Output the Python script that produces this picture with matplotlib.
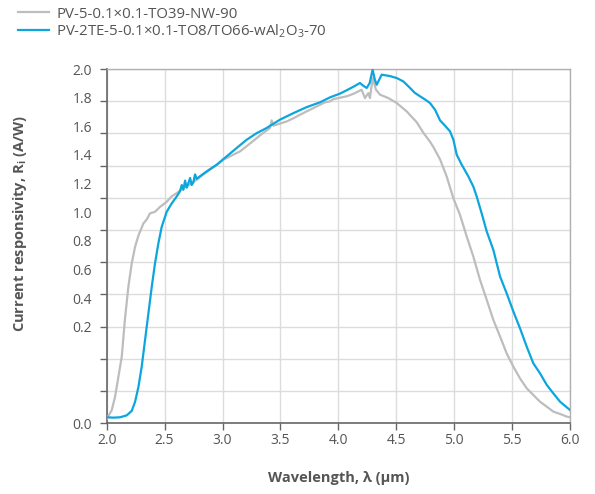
import numpy as np
import matplotlib
matplotlib.use("Agg")
import matplotlib.pyplot as plt

# spectral responsivity
gray_x = [2.000, 2.043, 2.072, 2.101, 2.130, 2.158, 2.187, 2.216, 2.245, 2.274,
          2.317, 2.345, 2.374, 2.417, 2.461, 2.518, 2.561, 2.604, 2.662, 2.720,
          2.777, 2.835, 2.892, 2.950, 3.007, 3.080, 3.151, 3.223, 3.295, 3.352,
          3.410, 3.424, 3.440, 3.468, 3.554, 3.612, 3.669, 3.740, 3.813, 3.885,
          3.928, 3.957, 4.072, 4.130, 4.201, 4.230, 4.259, 4.273, 4.296, 4.325,
          4.360, 4.432, 4.504, 4.590, 4.633, 4.676, 4.734, 4.791, 4.820, 4.878,
          4.935, 4.993, 5.050, 5.108, 5.165, 5.223, 5.281, 5.338, 5.396, 5.453,
          5.511, 5.568, 5.626, 5.683, 5.741, 5.799, 5.856, 5.914, 5.971, 6.000]
gray_y = [0.025, 0.073, 0.149, 0.262, 0.375, 0.590, 0.770, 0.902, 0.996, 1.060,
          1.128, 1.150, 1.185, 1.194, 1.222, 1.250, 1.281, 1.299, 1.328, 1.350,
          1.375, 1.405, 1.432, 1.458, 1.488, 1.512, 1.535, 1.572, 1.610, 1.640,
          1.667, 1.710, 1.680, 1.686, 1.704, 1.722, 1.742, 1.765, 1.789, 1.812,
          1.817, 1.830, 1.846, 1.860, 1.883, 1.836, 1.864, 1.836, 1.949, 1.883,
          1.855, 1.836, 1.808, 1.761, 1.730, 1.700, 1.640, 1.590, 1.560, 1.490,
          1.394, 1.270, 1.177, 1.055, 0.942, 0.810, 0.697, 0.584, 0.490, 0.395,
          0.320, 0.254, 0.198, 0.160, 0.122, 0.094, 0.066, 0.053, 0.038, 0.034]

blue_x = [2.000, 2.058, 2.115, 2.173, 2.216, 2.245, 2.274, 2.302, 2.331, 2.360,
          2.389, 2.417, 2.446, 2.475, 2.518, 2.561, 2.604, 2.633, 2.648, 2.662,
          2.677, 2.691, 2.705, 2.720, 2.734, 2.748, 2.763, 2.777, 2.806, 2.863,
          2.950, 3.036, 3.122, 3.209, 3.295, 3.381, 3.496, 3.612, 3.727, 3.842,
          3.928, 4.014, 4.072, 4.130, 4.187, 4.216, 4.245, 4.270, 4.296, 4.315,
          4.331, 4.374, 4.446, 4.504, 4.561, 4.619, 4.661, 4.705, 4.748, 4.791,
          4.835, 4.878, 4.921, 4.964, 4.993, 5.022, 5.065, 5.122, 5.165, 5.194,
          5.237, 5.281, 5.338, 5.396, 5.453, 5.511, 5.568, 5.626, 5.683, 5.741,
          5.799, 5.856, 5.914, 6.000]
blue_y = [0.034, 0.032, 0.034, 0.045, 0.070, 0.121, 0.205, 0.318, 0.469, 0.620,
          0.770, 0.902, 1.015, 1.109, 1.194, 1.241, 1.280, 1.310, 1.345, 1.318,
          1.370, 1.330, 1.355, 1.385, 1.345, 1.360, 1.405, 1.380, 1.395, 1.422,
          1.460, 1.507, 1.554, 1.601, 1.638, 1.667, 1.714, 1.751, 1.785, 1.812,
          1.840, 1.861, 1.880, 1.900, 1.921, 1.905, 1.893, 1.920, 1.996, 1.940,
          1.911, 1.968, 1.960, 1.949, 1.930, 1.893, 1.865, 1.846, 1.828, 1.808,
          1.770, 1.710, 1.680, 1.648, 1.601, 1.516, 1.460, 1.394, 1.337, 1.281,
          1.186, 1.083, 0.979, 0.829, 0.734, 0.631, 0.537, 0.433, 0.339, 0.282,
          0.217, 0.169, 0.122, 0.075]

names = ["PV-5-0.1×0.1-TO39-NW-90",
         "PV-2TE-5-0.1×0.1-TO8/TO66-wAl$_2$O$_3$-70"]

x_ticks = [2.0, 2.5, 3.0, 3.5, 4.0, 4.5, 5.0, 5.5, 6.0]
y_labels = ["2.0", "1.8", "1.6", "1.4", "1.2", "1.0", "0.8", "0.6", "0.4", "0.2", "0.0"]

plt.rcParams['font.family'] = ['Open Sans', 'DejaVu Sans']
plt.rcParams['mathtext.fontset'] = 'custom'
plt.rcParams['mathtext.rm'] = 'Open Sans'
plt.rcParams['mathtext.bf'] = 'Open Sans:bold'

txt = '#555555'
fig = plt.figure(figsize=(5.95, 4.94), dpi=100)
ax = fig.add_axes([0.1793, 0.1431, 0.7787, 0.7172])

ax.plot(gray_x, gray_y, color='#bdbdbf', lw=1.6, label=names[0], zorder=3)
ax.plot(blue_x, blue_y, color='#0ca6de', lw=1.6, label=names[1], zorder=4)

ax.set_xlim(2.0, 6.0)
ax.set_ylim(0, 2.0)

# grid and tick marks: 11 equal steps
ax.set_xticks(x_ticks)
ax.set_xticklabels([f"{v:.1f}" for v in x_ticks])
ax.set_yticks(np.linspace(0, 2.0, 12))
ax.set_yticklabels([])
# the labels sit on their own spacing, as in the original
ax.yaxis.remove_overlapping_locs = False
lab_pos = list(np.linspace(2.0, 2.0 * 3 / 11, 10)) + [0.0]
ax.set_yticks(lab_pos, minor=True)
ax.set_yticklabels(y_labels, minor=True)

ax.grid(True, color='#dcdcdc', lw=1.0, zorder=0)
ax.set_axisbelow(True)
ax.tick_params(axis='both', which='major', direction='out', length=5,
               width=1.0, color='#666666', labelsize=10, labelcolor=txt)
ax.tick_params(axis='x', pad=2)
ax.tick_params(axis='y', which='minor', length=0, pad=10.5,
               labelsize=10, labelcolor=txt)

for s in ['left', 'bottom']:
    ax.spines[s].set_color('#666666')
    ax.spines[s].set_linewidth(1.2)
for s in ['top', 'right']:
    ax.spines[s].set_color('#b0b0b0')
    ax.spines[s].set_linewidth(1.0)

ax.set_xlabel("Wavelength, λ (µm)", fontsize=10.5, fontweight='bold', color=txt)
ax.xaxis.set_label_coords(0.5, -0.135)
ax.set_ylabel(r"Current responsivity, $\mathbf{R}_\mathbf{i}$ (A/W)",
              fontsize=10.5, fontweight='bold', color=txt)
ax.yaxis.set_label_coords(-0.168, 0.564)

fig.legend(loc='upper left', bbox_to_anchor=(0.015, 1.005), frameon=False,
           fontsize=10.8, labelcolor=txt, handlelength=2.1, handletextpad=0.45,
           labelspacing=0.05, borderaxespad=0.2)

plt.savefig("out.png", dpi=100)
